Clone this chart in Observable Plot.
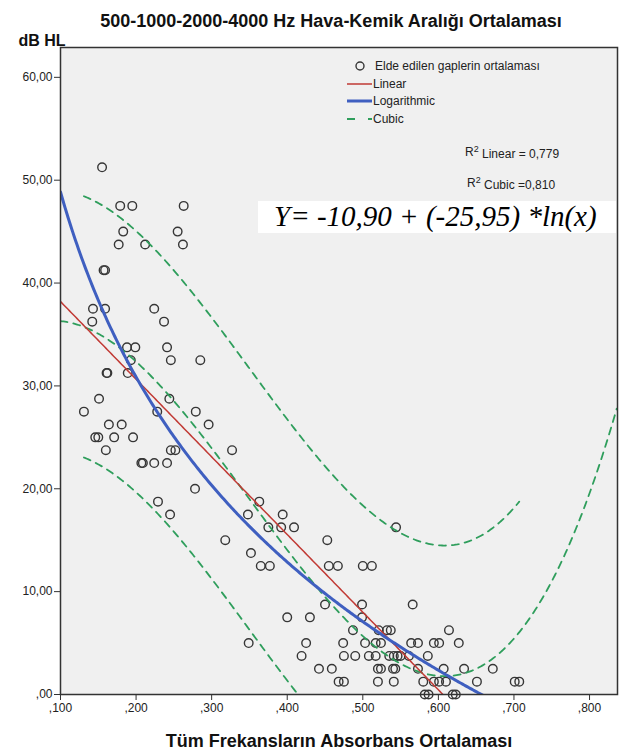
<!DOCTYPE html>
<html>
<head>
<meta charset="utf-8">
<script src="https://cdn.jsdelivr.net/npm/d3@7"></script>
<script src="https://cdn.jsdelivr.net/npm/@observablehq/plot@0.6"></script>
<style>
  html, body { margin: 0; padding: 0; background: #ffffff; }
  #chart { width: 622px; height: 756px; }
</style>
</head>
<body>
<div id="chart"></div>
<script>
// ---------- texts ----------
const titleText = "500-1000-2000-4000 Hz Hava-Kemik Aralığı Ortalaması";
const yAxisTitle = "dB HL";
const xAxisTitle = "Tüm Frekansların Absorbans Ortalaması";
const legendLabels = ["Elde edilen gaplerin ortalaması", "Linear", "Logarithmic", "Cubic"];
const r2Labels = ["Linear = 0,779", "Cubic =0,810"];
const equationText = "Y= -10,90 + (-25,95) *ln(x)";

// ---------- ticks ----------
const xTicks = [0.1, 0.2, 0.3, 0.4, 0.5, 0.6, 0.7, 0.8];
const xTickLabels = [",100", ",200", ",300", ",400", ",500", ",600", ",700", ",800"];
const yTicks = [0, 10, 20, 30, 40, 50, 60];
const yTickLabels = [",00", "10,00", "20,00", "30,00", "40,00", "50,00", "60,00"];

// ---------- scatter data (gap level -> absorbans values) ----------
const gapLevels = [51.25, 47.5, 45, 43.75, 41.25, 37.5, 36.25, 33.75, 32.5, 31.25, 28.75, 27.5, 26.25, 25,
  23.75, 22.5, 20, 18.75, 17.5, 16.25, 15, 13.75, 12.5, 8.75, 7.5, 6.25, 5, 3.75, 2.5, 1.25, 0];
const absorbansByLevel = [
  [0.155],
  [0.179, 0.195, 0.263],
  [0.183, 0.255],
  [0.177, 0.212, 0.262],
  [0.157, 0.159],
  [0.143, 0.159, 0.224],
  [0.142, 0.237],
  [0.188, 0.199, 0.241],
  [0.193, 0.246, 0.285],
  [0.161, 0.162, 0.189],
  [0.151, 0.244],
  [0.131, 0.228, 0.279],
  [0.164, 0.181, 0.296],
  [0.146, 0.150, 0.171, 0.196],
  [0.160, 0.246, 0.252, 0.327],
  [0.207, 0.209, 0.224, 0.241],
  [0.278],
  [0.229, 0.363],
  [0.245, 0.348, 0.394],
  [0.375, 0.392, 0.409, 0.544],
  [0.318, 0.453],
  [0.352],
  [0.365, 0.377, 0.455, 0.467, 0.500, 0.512],
  [0.450, 0.499, 0.566],
  [0.400, 0.430, 0.499],
  [0.487, 0.521, 0.532, 0.537, 0.614],
  [0.349, 0.425, 0.474, 0.503, 0.517, 0.524, 0.564, 0.573, 0.594, 0.601, 0.627],
  [0.419, 0.475, 0.490, 0.508, 0.517, 0.535, 0.541, 0.546, 0.550, 0.561, 0.586],
  [0.442, 0.459, 0.520, 0.524, 0.540, 0.543, 0.573, 0.607, 0.634, 0.672],
  [0.468, 0.475, 0.520, 0.541, 0.580, 0.594, 0.601, 0.610, 0.651, 0.701, 0.707],
  [0.582, 0.587, 0.619, 0.623]
];

// ---------- fitted curves (coefficients) ----------
const linearCoef = [45.75, -75.49];             // a + b*x
const logCoef = [-10.90, -25.95];               // a + b*ln(x)
const cubicOrigin = 0.1;
const cubicCoef = [36.3, -7.06, -373.3, 498.9]; // in u = x - 0.1
const cubicBandHalfWidth = 12.7;

// ---------- build ----------
const points = [];
gapLevels.forEach((g, i) => absorbansByLevel[i].forEach(a => points.push({x: a, y: g})));

const fLinear = x => linearCoef[0] + linearCoef[1] * x;
const fLog = x => logCoef[0] + logCoef[1] * Math.log(x);
const fCubic = x => { const u = x - cubicOrigin; return cubicCoef[0] + cubicCoef[1]*u + cubicCoef[2]*u*u + cubicCoef[3]*u*u*u; };

const xDomain = [0.1, 0.837];
const yDomain = [0, 62.9];
const grid = d3.range(xDomain[0], xDomain[1] + 1e-9, 0.002);
const [xMin, xMax] = d3.extent(points, d => d.x);
const bandGrid = d3.range(xMin, xMax + 1e-9, 0.002);

const RED = "#c13a35", BLUE = "#3f5fc0", GREEN = "#2f9e5c";
const font = "'Liberation Sans', Arial, sans-serif";

const plot = Plot.plot({
  width: 622,
  height: 756,
  marginLeft: 60,
  marginRight: 5,
  marginTop: 47,
  marginBottom: 62,
  x: {domain: xDomain},
  y: {domain: yDomain},
  style: {fontFamily: font, background: "#ffffff", overflow: "visible"},
  marks: [
    Plot.frame({fill: "#f0f0f0"}),
    Plot.dot(points, {x: "x", y: "y", r: 4.3, stroke: "#363636", strokeWidth: 1.4, fill: "none"}),
    Plot.line(bandGrid, {x: d => d, y: d => fCubic(d) + cubicBandHalfWidth, stroke: GREEN, strokeWidth: 1.8, strokeDasharray: "7,6", clip: true}),
    Plot.line(bandGrid, {x: d => d, y: d => fCubic(d) - cubicBandHalfWidth, stroke: GREEN, strokeWidth: 1.8, strokeDasharray: "7,6", clip: true}),
    Plot.line(grid, {x: d => d, y: d => fCubic(d), stroke: GREEN, strokeWidth: 1.8, strokeDasharray: "7,6", clip: true}),
    Plot.line(grid, {x: d => d, y: d => fLinear(d), stroke: RED, strokeWidth: 1.5, clip: true}),
    Plot.line(grid, {x: d => d, y: d => fLog(d), stroke: BLUE, strokeWidth: 3, clip: true}),
    Plot.frame({stroke: "#333333", strokeWidth: 1.5}),
    Plot.axisX({ticks: xTicks, tickFormat: d => xTickLabels[xTicks.indexOf(d)], tickSize: 6, tickPadding: 3,
      fontSize: 12, label: null, fill: "#222", stroke: "#333"}),
    Plot.axisY({ticks: yTicks, tickFormat: d => yTickLabels[yTicks.indexOf(d)], tickSize: 6, tickPadding: 2,
      fontSize: 12, label: null, fill: "#222", stroke: "#333"}),
    Plot.text([titleText], {frameAnchor: "top", dx: -8, dy: -33, fontWeight: "bold", fontSize: 18, fill: "#111"}),
    Plot.text([yAxisTitle], {frameAnchor: "top-left", dx: -42, dy: -13, textAnchor: "start", fontWeight: "bold", fontSize: 16, fill: "#111"}),
    Plot.text([xAxisTitle], {frameAnchor: "bottom", dy: 52, fontWeight: "bold", fontSize: 18, fill: "#111"})
  ]
});

document.getElementById("chart").appendChild(plot);

// ---------- legend, R² and equation box ----------
const svg = d3.select(plot);
const g = svg.append("g").attr("font-family", font).attr("font-size", 12).attr("fill", "#222").attr("text-anchor", "start");

g.append("circle").attr("cx", 360).attr("cy", 66).attr("r", 4).attr("fill", "none").attr("stroke", "#363636").attr("stroke-width", 1.4);
g.append("text").attr("x", 375).attr("y", 66).attr("dy", "0.35em").text(legendLabels[0]);

g.append("line").attr("x1", 347).attr("x2", 372).attr("y1", 84).attr("y2", 84).attr("stroke", RED).attr("stroke-width", 1.5);
g.append("text").attr("x", 373).attr("y", 84).attr("dy", "0.35em").text(legendLabels[1]);

g.append("line").attr("x1", 347).attr("x2", 372).attr("y1", 101).attr("y2", 101).attr("stroke", BLUE).attr("stroke-width", 3);
g.append("text").attr("x", 373).attr("y", 101).attr("dy", "0.35em").text(legendLabels[2]);

g.append("line").attr("x1", 347).attr("x2", 372).attr("y1", 119).attr("y2", 119).attr("stroke", GREEN).attr("stroke-width", 1.8).attr("stroke-dasharray", "8,13,4");
g.append("text").attr("x", 373).attr("y", 119).attr("dy", "0.35em").text(legendLabels[3]);

const r2pos = [[465, 152], [467, 183]];
r2Labels.forEach((lab, i) => {
  const t = g.append("text").attr("x", r2pos[i][0]).attr("y", r2pos[i][1]).attr("dy", "0.35em");
  t.append("tspan").text("R");
  t.append("tspan").attr("dy", "-0.45em").attr("font-size", 9).text("2");
  t.append("tspan").attr("dy", "0.45em").text(" " + lab);
});

g.append("rect").attr("x", 258).attr("y", 201).attr("width", 358).attr("height", 32).attr("fill", "#ffffff");
g.append("text").attr("x", 274).attr("y", 226).attr("font-family", "'Liberation Serif', 'Times New Roman', serif")
  .attr("font-style", "italic").attr("font-size", 29).attr("fill", "#000").text(equationText);
</script>
</body>
</html>
